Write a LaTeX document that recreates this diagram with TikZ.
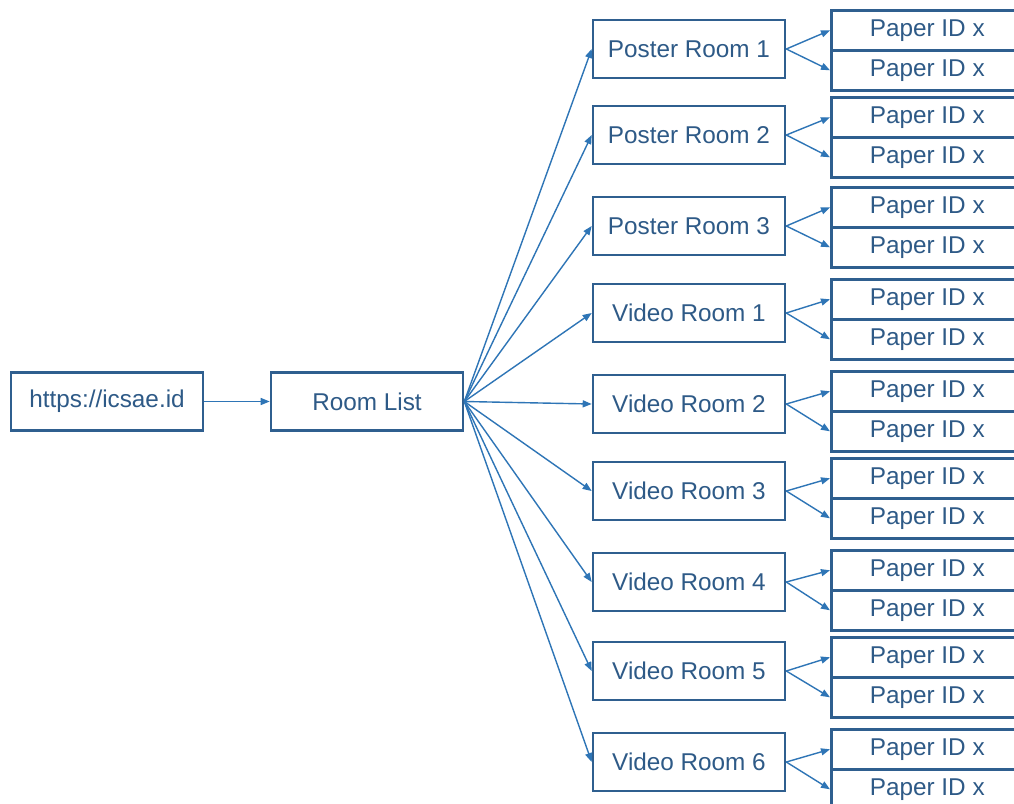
\documentclass[tikz,border=0pt]{standalone}
\usepackage{fontspec}
\setmainfont{Liberation Sans}
\usetikzlibrary{arrows.meta}
\definecolor{boxc}{HTML}{2F5F8F}
\definecolor{txtc}{HTML}{2E5A87}
\definecolor{arrc}{HTML}{2E75B6}
\begin{document}
\begin{tikzpicture}[x=1pt,y=-1pt,
  bx/.style={draw=boxc,line width=2.6pt,text=txtc,font=\fontsize{24.3}{28}\selectfont,inner sep=0pt},
  room/.style={bx,minimum width=192pt,minimum height=58pt},
  paper/.style={bx,minimum width=192pt,minimum height=40pt,anchor=north west},
  arr/.style={draw=arrc,line width=1.4pt,-{Triangle[length=9pt,width=7pt]}}]
\useasboundingbox (0,0) rectangle (1014,803);
\clip (0,0) rectangle (1014,803);
\fill[white] (0,0) rectangle (1014,803);
\node[room] (url) at (107,401.5) {https://icsae.id};
\node[room] (rl) at (367,401.5) {Room List};
\draw[arr] (url) -- (rl);
% rooms: name, label, center y, top y of its paper boxes
\foreach \n/\lab/\cy/\pt in {p1/Poster Room 1/49/9, p2/Poster Room 2/135/96, p3/Poster Room 3/226/186,
   v1/Video Room 1/313/278, v2/Video Room 2/404/370, v3/Video Room 3/491/457,
   v4/Video Room 4/582/549, v5/Video Room 5/671/636, v6/Video Room 6/762/728}{
  \node[room] (\n) at (689,\cy) {\lab};
  \node[paper] (\n a) at (830,\pt) {Paper ID x};
  \node[paper] (\n b) at (830,\pt+40) {Paper ID x};
  \draw[arr] (rl.east) -- (\n.west);
  \draw[arr] (\n.east) -- (\n a.west);
  \draw[arr] (\n.east) -- (\n b.west);
}
\end{tikzpicture}
\end{document}
